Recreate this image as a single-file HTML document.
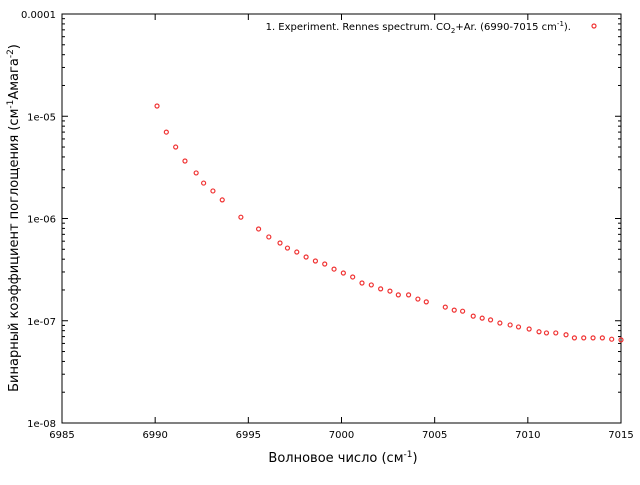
<!DOCTYPE html>
<html><head><meta charset="utf-8"><style>
body{margin:0;background:#fff}
svg{font-family:"DejaVu Sans","Liberation Sans",sans-serif}
</style></head><body>
<svg id="chart" width="640" height="480" viewBox="0 0 640 480">
<g id="grid"></g>
<rect x="62" y="14" width="559" height="409" fill="none" stroke="#000" stroke-width="1"/>
<g id="ticks"></g>
<g id="labels" font-size="10" fill="#000"></g>
<g id="points"></g>
<text x="343" y="462" font-size="13" text-anchor="middle">Волновое число (см<tspan dy="-5" font-size="9">-1</tspan><tspan dy="5">)</tspan></text>
<text transform="translate(18,218) rotate(-90)" font-size="13" text-anchor="middle">Бинарный коэффициент поглощения (см<tspan dy="-5" font-size="9">-1</tspan><tspan dy="5">Амага</tspan><tspan dy="-5" font-size="9">-2</tspan><tspan dy="5">)</tspan></text>
<g>
<text x="571" y="30" font-size="10" text-anchor="end">1. Experiment. Rennes spectrum. CO<tspan dy="3" font-size="7">2</tspan><tspan dy="-3">+Ar. (6990-7015 cm</tspan><tspan dy="-4" font-size="7">-1</tspan><tspan dy="4">).</tspan></text>
<circle cx="594" cy="26" r="2" fill="none" stroke="#f03232" stroke-width="1.2"/>
</g>
</svg>
<script>
const xVals=[6990.1,6990.6,6991.1,6991.6,6992.2,6992.6,6993.1,6993.6,6994.6,6995.55,6996.1,6996.7,6997.1,6997.6,6998.1,6998.6,6999.1,6999.6,7000.1,7000.6,7001.1,7001.6,7002.1,7002.6,7003.05,7003.6,7004.1,7004.55,7005.57,7006.05,7006.5,7007.07,7007.55,7008.0,7008.5,7009.05,7009.5,7010.07,7010.6,7011.0,7011.5,7012.05,7012.5,7013.0,7013.5,7014.0,7014.5,7015.0];
const yVals=[1.26e-5,7.0e-6,5.0e-6,3.65e-6,2.79e-6,2.22e-6,1.86e-6,1.52e-6,1.03e-6,7.9e-7,6.6e-7,5.76e-7,5.14e-7,4.7e-7,4.2e-7,3.84e-7,3.59e-7,3.2e-7,2.93e-7,2.68e-7,2.34e-7,2.24e-7,2.05e-7,1.95e-7,1.79e-7,1.79e-7,1.63e-7,1.53e-7,1.36e-7,1.27e-7,1.24e-7,1.11e-7,1.06e-7,1.02e-7,9.5e-8,9.1e-8,8.7e-8,8.3e-8,7.8e-8,7.6e-8,7.6e-8,7.3e-8,6.8e-8,6.8e-8,6.8e-8,6.8e-8,6.6e-8,6.5e-8];
const xTicks=[6985,6990,6995,7000,7005,7010,7015];
const yTickLabels=["0.0001","1e-05","1e-06","1e-07","1e-08"];
const yTickExps=[-4,-5,-6,-7,-8];
const NS="http://www.w3.org/2000/svg";
const L=62,R=621,T=14,B=423;
const sx=v=>L+(v-6985)/(7015-6985)*(R-L);
const sy=v=>T+(-4-Math.log10(v))/4*(B-T);
function mk(tag,attrs,parent){const e=document.createElementNS(NS,tag);for(const k in attrs)e.setAttribute(k,attrs[k]);document.getElementById(parent).appendChild(e);return e;}
xTicks.forEach(t=>{const x=sx(t);
 const a=mk('line',{x1:x,x2:x,y1:B,y2:B-6,stroke:'#000'},'ticks');
 
 
 mk('line',{x1:x,x2:x,y1:T,y2:T+6,stroke:'#000'},'ticks');
 const tx=mk('text',{x:x,y:B+15,'text-anchor':'middle'},'labels');tx.textContent=t;
 
 
});
yTickExps.forEach((e,i)=>{const y=sy(Math.pow(10,e));
 const a=mk('line',{x1:L,x2:L+6,y1:y,y2:y,stroke:'#000'},'ticks');
 
 
 mk('line',{x1:R,x2:R-6,y1:y,y2:y,stroke:'#000'},'ticks');
 const tx=mk('text',{x:L-6,y:y+4,'text-anchor':'end'},'labels');tx.textContent=yTickLabels[i];
 
 
 if(e>-8){for(let m=2;m<10;m++){const ym=sy(m*Math.pow(10,e-1));
  mk('line',{x1:L,x2:L+3,y1:ym,y2:ym,stroke:'#000'},'ticks');
  mk('line',{x1:R,x2:R-3,y1:ym,y2:ym,stroke:'#000'},'ticks');}}
});
xVals.forEach((xv,i)=>{
 const c=mk('circle',{cx:sx(xv),cy:sy(yVals[i]),r:2,fill:'none',stroke:'#f03232','stroke-width':1.2},'points');
 
 
});
</script>
</body></html>
